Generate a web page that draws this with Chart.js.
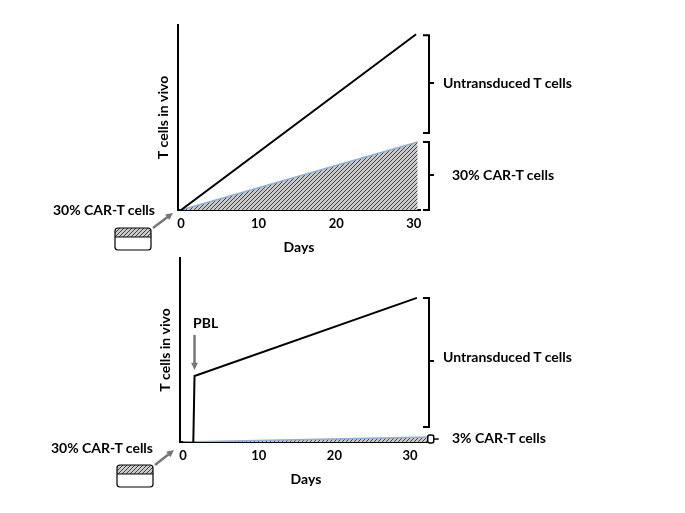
<!DOCTYPE html>
<html>
<head>
<meta charset="utf-8">
<script src="https://cdn.jsdelivr.net/npm/chart.js@4.4.1/dist/chart.umd.min.js"></script>
<style>
  body { margin: 0; background: #fff; }
  #wrap { position: relative; width: 685px; height: 513px; font-family: Lato, "Open Sans", sans-serif; font-weight: bold; font-size: 14px; color: #000; }
  canvas { position: absolute; left: 0; }
  .lbl { position: absolute; white-space: nowrap; line-height: 16px; transform: translateY(-50%); }
  .rt { text-align: right; }
</style>
</head>
<body>
<div id="wrap">
  <canvas id="topChart" width="685" height="256" style="top:0"></canvas>
  <canvas id="bottomChart" width="685" height="257" style="top:256px"></canvas>

  <div class="lbl" style="left:443px;top:83px">Untransduced T cells</div>
  <div class="lbl" style="left:452px;top:175px">30% CAR-T cells</div>
  <div class="lbl rt" style="right:530px;top:210px">30% CAR-T cells</div>

  <div class="lbl" style="left:193px;top:323px">PBL</div>
  <div class="lbl" style="left:443px;top:357px">Untransduced T cells</div>
  <div class="lbl" style="left:452px;top:438px">3% CAR-T cells</div>
  <div class="lbl rt" style="right:532px;top:448px">30% CAR-T cells</div>
</div>

<script>
// data (y is a relative 0-100 scale)
const xTicks = [0, 10, 20, 30];

const topDays = [0, 30.3];
const topUntransduced = [0, 95];
const topCarDays = [0, 30.5];
const topCar = [0, 36.8];

const bottomDays = [1.36, 1.52, 30.9];
const bottomUntransduced = [0, 35.9, 78.3];
const bottomCarDays = [0, 32.6];
const bottomCar = [0, 2.7];

function points(xs, ys) {
  return xs.map((x, i) => ({ x: x, y: ys[i] }));
}

function makeHatch() {
  const c = document.createElement('canvas');
  c.width = 4; c.height = 4;
  const g = c.getContext('2d');
  g.fillStyle = '#c9c9c9';
  g.fillRect(0, 0, 4, 4);
  g.strokeStyle = '#444';
  g.lineWidth = 1;
  g.beginPath();
  g.moveTo(0, 4); g.lineTo(4, 0);
  g.moveTo(-1, 1); g.lineTo(1, -1);
  g.moveTo(3, 5); g.lineTo(5, 3);
  g.stroke();
  return g.createPattern(c, 'repeat');
}
const hatch = makeHatch();

const titleFont = { family: 'Lato, "Open Sans", sans-serif', size: 14, weight: 'bold' };
const tickFont = { family: 'Lato, "Open Sans", sans-serif', size: 13, weight: 'bold' };

function bracket(ctx, x, y1, y2, yMid) {
  ctx.beginPath();
  ctx.moveTo(x - 6, y1); ctx.lineTo(x, y1); ctx.lineTo(x, y2); ctx.lineTo(x - 6, y2);
  ctx.moveTo(x, yMid); ctx.lineTo(x + 5, yMid);
  ctx.stroke();
}

function arrow(ctx, x1, y1, x2, y2) {
  const a = Math.atan2(y2 - y1, x2 - x1);
  const h = 8;
  ctx.strokeStyle = '#777';
  ctx.fillStyle = '#777';
  ctx.lineWidth = 2.5;
  ctx.beginPath();
  ctx.moveTo(x1, y1);
  ctx.lineTo(x2 - Math.cos(a) * h * 0.8, y2 - Math.sin(a) * h * 0.8);
  ctx.stroke();
  ctx.beginPath();
  ctx.moveTo(x2, y2);
  ctx.lineTo(x2 - h * Math.cos(a - 0.45), y2 - h * Math.sin(a - 0.45));
  ctx.lineTo(x2 - h * Math.cos(a + 0.45), y2 - h * Math.sin(a + 0.45));
  ctx.closePath();
  ctx.fill();
}

function roundRect(ctx, x, y, w, h, r) {
  ctx.beginPath();
  ctx.moveTo(x + r, y);
  ctx.arcTo(x + w, y, x + w, y + h, r);
  ctx.arcTo(x + w, y + h, x, y + h, r);
  ctx.arcTo(x, y + h, x, y, r);
  ctx.arcTo(x, y, x + w, y, r);
  ctx.closePath();
}

function cellBox(ctx, x, y) {
  const w = 36, h = 22, top = 9;
  ctx.save();
  roundRect(ctx, x, y, w, h, 3);
  ctx.fillStyle = '#fff';
  ctx.fill();
  ctx.clip();
  ctx.fillStyle = hatch;
  ctx.fillRect(x, y, w, top);
  ctx.restore();
  ctx.strokeStyle = '#000';
  ctx.lineWidth = 1.2;
  roundRect(ctx, x, y, w, h, 3);
  ctx.stroke();
  ctx.beginPath();
  ctx.moveTo(x, y + top); ctx.lineTo(x + w, y + top);
  ctx.stroke();
}

function scalesFor(xMin, xMax) {
  return {
    x: {
      type: 'linear', min: xMin, max: xMax,
      grid: { display: false, drawTicks: false },
      border: { display: true, color: '#000', width: 2 },
      ticks: { color: '#000', font: tickFont, padding: 6 },
      afterBuildTicks: s => { s.ticks = xTicks.map(v => ({ value: v })); },
      afterFit: s => { s.height = 46; },
      title: { display: true, text: 'Days', color: '#000', font: titleFont, padding: 0 }
    },
    y: {
      min: 0, max: 100,
      grid: { display: false, drawTicks: false },
      border: { display: true, color: '#000', width: 2 },
      ticks: { display: false },
      afterFit: s => { s.width = 23; },
      title: { display: true, text: 'T cells in vivo', color: '#000', font: titleFont, padding: 0 }
    }
  };
}

const commonPlugins = { legend: { display: false }, tooltip: { enabled: false } };

new Chart(document.getElementById('topChart'), {
  type: 'line',
  data: {
    datasets: [
      { data: points(topDays, topUntransduced), borderColor: '#000', borderWidth: 2, pointRadius: 0, fill: false },
      { data: points(topCarDays, topCar), borderColor: '#8fb0d8', borderWidth: 1.5, pointRadius: 0, backgroundColor: hatch, fill: 'origin' }
    ]
  },
  options: {
    responsive: false, animation: false,
    layout: { padding: { left: 155, top: 25, right: 265, bottom: 0 } },
    scales: scalesFor(-0.39, 30.8),
    plugins: commonPlugins
  },
  plugins: [{
    id: 'decorTop',
    afterDraw(chart) {
      const ctx = chart.ctx, a = chart.chartArea, y = chart.scales.y;
      ctx.save();
      ctx.strokeStyle = '#000';
      ctx.lineWidth = 2;
      const bx = a.right + 9;
      const yTot = y.getPixelForValue(topUntransduced[1]);
      const yCar = y.getPixelForValue(topCar[1]);
      const y0 = y.getPixelForValue(0);
      bracket(ctx, bx, yTot + 1, yCar - 9, 83);
      bracket(ctx, bx, yCar, y0, 175);
      cellBox(ctx, a.left - 63, a.bottom + 18);
      arrow(ctx, a.left - 25, a.bottom + 18, a.left - 5, a.bottom + 3);
      ctx.restore();
    }
  }]
});

new Chart(document.getElementById('bottomChart'), {
  type: 'line',
  data: {
    datasets: [
      { data: points(bottomDays, bottomUntransduced), borderColor: '#000', borderWidth: 2, pointRadius: 0, fill: false },
      { data: points(bottomCarDays, bottomCar), borderColor: '#8fb0d8', borderWidth: 1.5, pointRadius: 0, backgroundColor: hatch, fill: 'origin' }
    ]
  },
  options: {
    responsive: false, animation: false,
    layout: { padding: { left: 157, top: 2, right: 253, bottom: 25 } },
    scales: scalesFor(-0.4, 32.9),
    plugins: commonPlugins
  },
  plugins: [{
    id: 'decorBottom',
    afterDraw(chart) {
      const ctx = chart.ctx, a = chart.chartArea, x = chart.scales.x, y = chart.scales.y;
      ctx.save();
      ctx.strokeStyle = '#000';
      ctx.lineWidth = 2;
      const yTot = y.getPixelForValue(bottomUntransduced[2]);
      const y0 = y.getPixelForValue(0);
      bracket(ctx, a.right - 3, yTot, y0 - 15, 105);
      // small end cap on the CAR-T wedge
      const cx = x.getPixelForValue(bottomCarDays[1]);
      const cy = y.getPixelForValue(bottomCar[1]);
      ctx.lineWidth = 1.5;
      roundRect(ctx, cx - 2, cy - 2, 6, 8, 2);
      ctx.fillStyle = '#fff';
      ctx.fill();
      ctx.stroke();
      ctx.beginPath();
      ctx.moveTo(cx + 4, cy + 2); ctx.lineTo(cx + 9, cy + 2);
      ctx.stroke();
      cellBox(ctx, a.left - 63, a.bottom + 23);
      arrow(ctx, a.left - 25, a.bottom + 23, a.left - 6, a.bottom + 8);
      // PBL arrow
      const px = x.getPixelForValue(bottomDays[1]);
      const py = y.getPixelForValue(bottomUntransduced[1]) - 6;
      arrow(ctx, px, py - 35, px, py);
      ctx.restore();
    }
  }]
});
</script>
</body>
</html>
